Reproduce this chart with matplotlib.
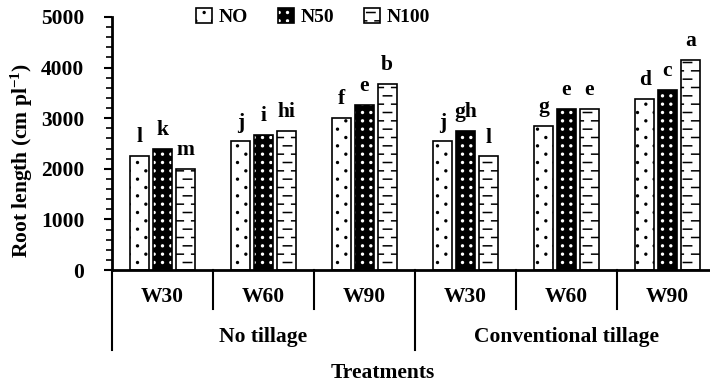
import numpy as np
import matplotlib
matplotlib.use("Agg")
import matplotlib.pyplot as plt
import matplotlib.hatch as mhatch
from matplotlib.path import Path
from matplotlib.patches import Patch
from matplotlib.legend_handler import HandlerTuple
import matplotlib.transforms as mtrans

# ---------------- data ----------------
groups = ["W30", "W60", "W90", "W30", "W60", "W90"]
tillage = ["No tillage", "Conventional tillage"]
series = ["NO", "N50", "N100"]
no_vals = [2260, 2540, 3000, 2540, 2845, 3385]
n50_vals = [2400, 2670, 3265, 2755, 3190, 3565]
n100_vals = [2000, 2740, 3680, 2245, 3190, 4150]
no_letters = ["l", "j", "f", "j", "g", "d"]
n50_letters = ["k", "i", "e", "gh", "e", "c"]
n100_letters = ["m", "hi", "b", "l", "e", "a"]
yticks = [0, 1000, 2000, 3000, 4000, 5000]


# ---------------- custom hatches ----------------
class DashHatch(mhatch.HatchPatternBase):
    """Staggered short horizontal dashes (replaces '-')."""
    def __init__(self, hatch, density):
        self.rows = int(hatch.count('-') * density)
        self.cols = 6
        self.num_vertices = self.rows * self.cols * 2

    def set_vertices_and_codes(self, vertices, codes):
        k = 0
        dl = 0.5 / self.cols
        for r in range(self.rows):
            y = r / self.rows + 0.5 / self.rows
            off = 0.0 if r % 2 == 0 else 0.5 / self.cols
            for c in range(self.cols):
                x0 = c / self.cols + off
                vertices[k] = (x0, y)
                vertices[k + 1] = (min(x0 + dl, 1.0), y)
                codes[k] = Path.MOVETO
                codes[k + 1] = Path.LINETO
                k += 2


class DotHatch(mhatch.HatchPatternBase):
    """Small filled dots: '.' sparse staggered, '..' dense grid."""
    def __init__(self, hatch, density):
        n = hatch.count('.')
        circ = Path.unit_circle()
        self.sv = circ.vertices
        self.sc = circ.codes
        pts = []
        if n == 1:
            rows, cols = 12, 6
            for r in range(rows):
                off = 0.0 if r % 2 == 0 else 0.5 / cols
                for c in range(cols):
                    pts.append((c / cols + off + 0.25 / cols, r / rows + 0.5 / rows))
        elif n >= 2:
            rows, cols = 12, 12
            for r in range(rows):
                for c in range(cols):
                    pts.append((c / cols + 0.5 / cols, r / rows + 0.5 / rows))
        self.pts = pts
        self.num_vertices = len(pts) * len(self.sv)

    def set_vertices_and_codes(self, vertices, codes):
        k = len(self.sv)
        rad = 0.009
        for i, (x, y) in enumerate(self.pts):
            vertices[i * k:(i + 1) * k] = self.sv * rad + [x, y]
            codes[i * k:(i + 1) * k] = self.sc


mhatch._hatch_types = [
    DashHatch if t is mhatch.HorizontalHatch else
    DotHatch if t is mhatch.SmallFilledCircles else t
    for t in mhatch._hatch_types
]

# ---------------- style ----------------
FONT = "Liberation Serif"
plt.rcParams["font.family"] = FONT
plt.rcParams["font.weight"] = "bold"
plt.rcParams["mathtext.fontset"] = "custom"
plt.rcParams["mathtext.rm"] = "Liberation Serif:bold"
plt.rcParams["mathtext.it"] = "Liberation Serif:bold"
plt.rcParams["mathtext.bf"] = "Liberation Serif:bold"
plt.rcParams["hatch.linewidth"] = 1.1

FS = 15.5
W, H = 710, 385
fig = plt.figure(figsize=(W / 100, H / 100), dpi=100)
ax = fig.add_axes([112 / W, (H - 270) / H, 606 / W, 253 / H])

x = np.arange(len(groups))
bw = 0.185
off = 0.225
lw = 1.2

b1 = ax.bar(x - off, no_vals, bw, facecolor="white", edgecolor="black",
            hatch=".", linewidth=lw)
b2a = ax.bar(x, n50_vals, bw, facecolor="black", edgecolor="white",
             hatch="..", linewidth=0)
b2b = ax.bar(x, n50_vals, bw, fill=False, edgecolor="black", linewidth=lw)
b3 = ax.bar(x + off, n100_vals, bw, facecolor="white", edgecolor="black",
            hatch="--", linewidth=lw)

for xs, vals, labs in [(x - off, no_vals, no_letters),
                       (x, n50_vals, n50_letters),
                       (x + off, n100_vals, n100_letters)]:
    for xi, v, lab in zip(xs, vals, labs):
        ax.annotate(lab, (xi, v), xytext=(0, 10), textcoords="offset points",
                    ha="center", va="baseline", fontsize=FS, fontweight="bold")

ax.set_xlim(-0.5, 5.5)
ax.set_ylim(0, 5000)
ax.set_yticks(yticks)
ax.set_yticklabels([str(t) for t in yticks])
ax.set_yticks(np.arange(0, 5001, 200), minor=True)
ax.tick_params(axis="y", which="major", length=6, width=1.5, pad=14,
               labelsize=FS, direction="out")
ax.tick_params(axis="y", which="minor", length=4, width=1.2, direction="out")
ax.set_xticks([])
for s in ["top", "right"]:
    ax.spines[s].set_visible(False)
ax.spines["left"].set_linewidth(2)
ax.spines["bottom"].set_linewidth(2)

# category labels below axis
tr = mtrans.blended_transform_factory(ax.transData, ax.transAxes)
y_grp = -(297 - 270) / 253
y_div1 = -(309 - 270) / 253
y_till = -(337 - 270) / 253
y_div2 = -(350 - 270) / 253
for i, g in enumerate(groups):
    ax.text(i, y_grp, g, transform=tr, ha="center", va="center",
            fontsize=FS, fontweight="bold")
for d in [0.5, 1.5, 3.5, 4.5]:
    ax.plot([d, d], [0, y_div1], transform=tr, color="black", lw=1.5,
            clip_on=False)
for d in [-0.5, 2.5, 5.5]:
    ax.plot([d, d], [0, y_div2], transform=tr, color="black", lw=1.5,
            clip_on=False)
ax.text(1, y_till, tillage[0], transform=tr, ha="center", va="center",
        fontsize=FS, fontweight="bold")
ax.text(4, y_till, tillage[1], transform=tr, ha="center", va="center",
        fontsize=FS, fontweight="bold")

fig.text(383 / W, 1 - 373 / H, "Treatments", ha="center", va="center",
         fontsize=FS, fontweight="bold")
fig.text(22 / W, 1 - 160 / H, r"Root length (cm pl$^{-1}$)", rotation=90,
         ha="center", va="center", fontsize=FS, fontweight="bold")

# legend
h1 = Patch(facecolor="white", edgecolor="black", hatch=".", linewidth=lw)
h2a = Patch(facecolor="black", edgecolor="white", hatch="..", linewidth=0)
h2b = Patch(fill=False, edgecolor="black", linewidth=lw)
h3 = Patch(facecolor="white", edgecolor="black", hatch="--", linewidth=lw)
fig.legend([h1, (h2a, h2b), h3], series, loc="center",
           bbox_to_anchor=(313 / W, 1 - 17 / H), ncol=3, frameon=False,
           fontsize=14, handlelength=0.8, handleheight=0.8,
           handletextpad=0.35, columnspacing=1.55, borderpad=0,
           handler_map={tuple: HandlerTuple(ndivide=1, pad=0)})

fig.savefig("out.png", dpi=100)
